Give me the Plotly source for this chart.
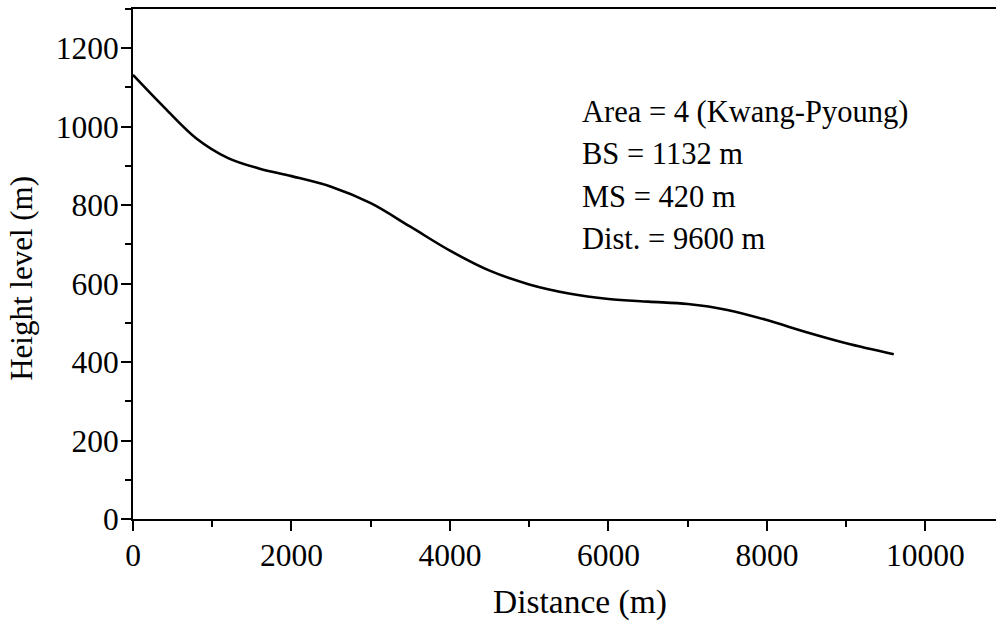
import plotly.graph_objects as go

# Longitudinal profile of the slope (Kwang-Pyoung)
distance_m = [0, 400, 800, 1200, 1600, 2000, 2500, 3000, 3500, 4000, 4500,
              5000, 5500, 6000, 6500, 7000, 7500, 8000, 8500, 9000, 9600]
height_m = [1132, 1048, 970, 920, 893, 874, 847, 805, 745, 684, 633,
            598, 575, 561, 554, 548, 533, 507, 476, 448, 420]

x_ticks = [0, 2000, 4000, 6000, 8000, 10000]
y_ticks = [0, 200, 400, 600, 800, 1000, 1200]

info_lines = ["Area = 4 (Kwang-Pyoung)", "BS = 1132 m", "MS = 420 m", "Dist. = 9600 m"]

FONT = "Liberation Serif, Times New Roman, serif"

fig = go.Figure()
fig.add_trace(go.Scatter(
    x=distance_m, y=height_m, mode="lines",
    line=dict(color="black", width=2.6, shape="spline", smoothing=1.0),
    showlegend=False, hoverinfo="skip",
))

axis_common = dict(
    showgrid=False, zeroline=False,
    showline=True, linecolor="black", linewidth=2,
    ticks="outside", tickcolor="black", tickwidth=2, ticklen=10,
    tickfont=dict(family=FONT, size=31.5, color="black"),
)

fig.update_xaxes(
    range=[0, 10890], tickvals=x_ticks, ticktext=[str(v) for v in x_ticks],
    mirror=True, ticklabelstandoff=-3,
    minor=dict(dtick=1000, tick0=0, ticks="outside", ticklen=6, tickwidth=2, tickcolor="black"),
    **axis_common,
)
fig.update_yaxes(
    range=[0, 1300], tickvals=y_ticks, ticktext=[str(v) for v in y_ticks],
    ticklabelstandoff=-4,
    minor=dict(dtick=100, tick0=0, ticks="outside", ticklen=6, tickwidth=2, tickcolor="black"),
    **axis_common,
)

annotations = []
line_y = [0.798, 0.716, 0.631, 0.549]
for text, yp in zip(info_lines, line_y):
    annotations.append(dict(
        text=text, xref="paper", yref="paper", x=0.518, y=yp,
        xanchor="left", yanchor="middle", showarrow=False,
        font=dict(family=FONT, size=30.5, color="black"),
    ))

annotations.append(dict(
    text="Distance (m)", xref="paper", yref="paper", x=0.5174, y=-0.163,
    xanchor="center", yanchor="middle", showarrow=False,
    font=dict(family=FONT, size=33.5, color="black"),
))
annotations.append(dict(
    text="Height level (m)", xref="paper", yref="paper", x=-0.13, y=0.4725,
    xanchor="center", yanchor="middle", showarrow=False, textangle=-90,
    font=dict(family=FONT, size=31, color="black"),
))

fig.update_layout(
    width=996, height=624,
    margin=dict(l=133, r=0, t=9, b=105),
    paper_bgcolor="white", plot_bgcolor="white",
    annotations=annotations,
)

fig.write_html("out.html")
